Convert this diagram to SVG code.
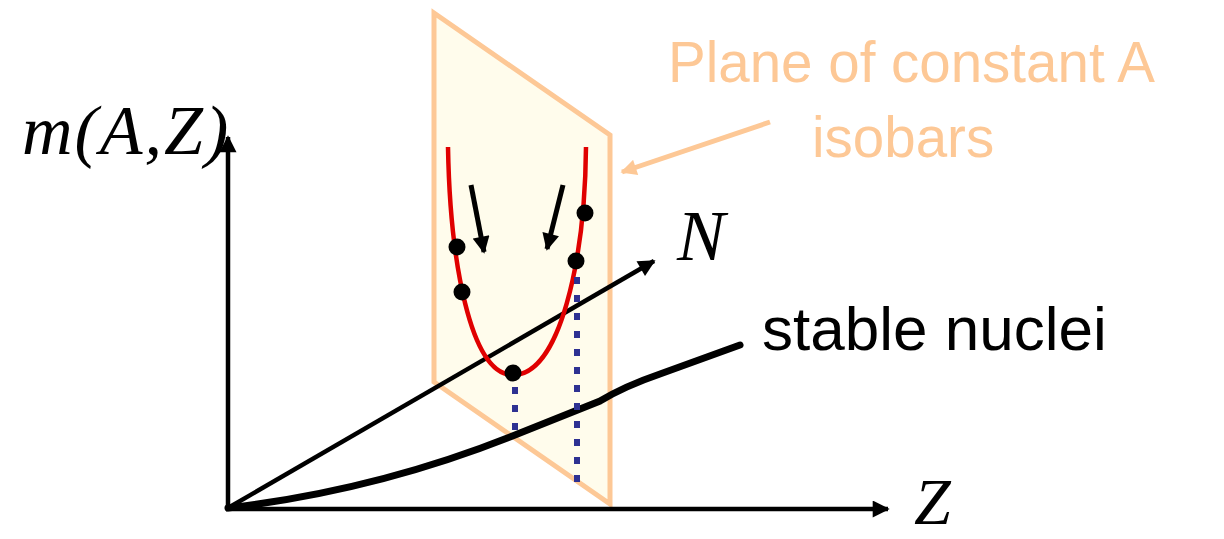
<svg xmlns="http://www.w3.org/2000/svg" width="1224" height="539" viewBox="0 0 1224 539">
<defs>
<style>
.ax{stroke:#000;stroke-width:4.5;fill:none}
.serif{font-family:"Liberation Serif","Times New Roman",serif;font-style:italic;fill:#000}
.sans{font-family:"Liberation Sans",Arial,sans-serif}
.dot{fill:#000}
.blue{stroke:#2e3192;stroke-width:6;stroke-dasharray:7 11;fill:none}
</style>
<marker id="ahBig" viewBox="0 0 10 10" refX="9" refY="5" markerWidth="20" markerHeight="17" orient="auto" markerUnits="userSpaceOnUse">
<path d="M0,0 L10,5 L0,10 z" fill="#000"/>
</marker>
<marker id="ahPeach" viewBox="0 0 10 10" refX="9" refY="5" markerWidth="18" markerHeight="16" orient="auto" markerUnits="userSpaceOnUse">
<path d="M0,0 L10,5 L0,10 z" fill="#fdc896"/>
</marker>
</defs>
<g id="plane">
<polygon points="434,13 610,135 610,504 434,382" fill="#fffcec" stroke="#fdc896" stroke-width="5" stroke-linejoin="miter"/>
</g>
<g id="connectors">
<line class="ax" x1="228" y1="509" x2="228" y2="137" marker-end="url(#ahBig)"/>
<line class="ax" x1="226" y1="509" x2="888" y2="509" marker-end="url(#ahBig)"/>
<line class="ax" x1="228" y1="508" x2="654" y2="261" marker-end="url(#ahBig)"/>
<line x1="770" y1="122" x2="622" y2="172" stroke="#fdc896" stroke-width="5" marker-end="url(#ahPeach)"/>
<line x1="471" y1="185" x2="484" y2="252" stroke="#000" stroke-width="5" marker-end="url(#ahBig)"/>
<line x1="563" y1="185" x2="547" y2="249" stroke="#000" stroke-width="5" marker-end="url(#ahBig)"/>
</g>
<g id="stable-curve">
<path d="M228,508 Q380,490 520,433 L600,401 Q625,386 660,374 L740,345" fill="none" stroke="#000" stroke-width="7" stroke-linecap="round"/>
</g>
<g id="isobar-curve">
<path d="M448,147 C450,260 470,375 513,375 C560,375 585,260 586,147" fill="none" stroke="#e00000" stroke-width="4.5"/>
</g>
<g id="dotted-lines">
<line class="blue" x1="515" y1="387" x2="515" y2="436"/>
<line class="blue" x1="577" y1="277" x2="577" y2="482"/>
</g>
<g id="points">
<circle class="dot" cx="457" cy="247" r="8.5"/>
<circle class="dot" cx="462" cy="292" r="8.5"/>
<circle class="dot" cx="513" cy="373" r="8.5"/>
<circle class="dot" cx="585" cy="213" r="8.5"/>
<circle class="dot" cx="576" cy="261" r="8.5"/>
</g>
<g id="labels">
<text class="serif" x="22" y="154" font-size="70" letter-spacing="2">m(A,Z)</text>
<text class="serif" x="677" y="260" font-size="72">N</text>
<text class="serif" x="914" y="524" font-size="66">Z</text>
<text class="sans" x="762" y="350" font-size="62" fill="#000">stable nuclei</text>
<text class="sans" x="668" y="82" font-size="56.5" fill="#fdc896">Plane of constant A</text>
<text class="sans" x="812" y="157" font-size="56.5" fill="#fdc896">isobars</text>
</g>
</svg>
